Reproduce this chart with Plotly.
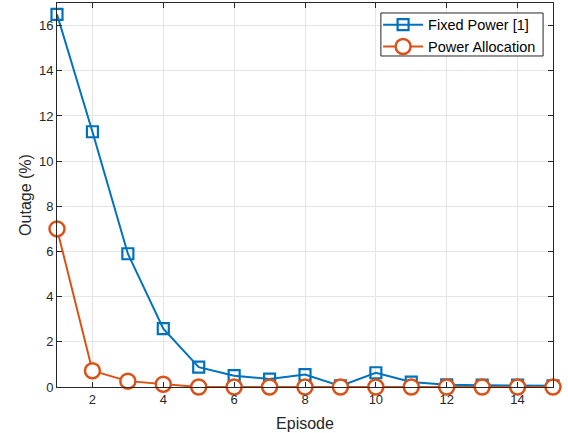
import plotly.graph_objects as go

episodes = list(range(1, 16))
fixed_power = [16.5, 11.3, 5.9, 2.58, 0.88, 0.5, 0.35, 0.55, 0.05, 0.63, 0.22, 0.1, 0.08, 0.08, 0.05]
power_alloc = [7.0, 0.72, 0.26, 0.12, 0.0, 0.0, 0.0, 0.0, 0.0, 0.0, 0.0, 0.0, 0.0, 0.0, 0.0]

blue = "#0072BD"
orange = "#D95319"
axcol = "#262626"

fig = go.Figure()
fig.add_trace(go.Scatter(
    x=episodes, y=fixed_power, mode="lines+markers", name="Fixed Power [1]",
    line=dict(color=blue, width=2),
    marker=dict(symbol="square-open", size=11, color=blue, line=dict(width=2.2, color=blue)),
    cliponaxis=False,
))
fig.add_trace(go.Scatter(
    x=episodes, y=power_alloc, mode="lines+markers", name="Power Allocation",
    line=dict(color=orange, width=2),
    marker=dict(symbol="circle", size=15, color="white", line=dict(width=2.5, color=orange)),
    cliponaxis=False,
))

# legend frame (white box with dark border)
fig.add_shape(
    type="rect", xref="paper", yref="paper",
    x0=0.653, x1=0.980, y0=0.862, y1=0.974,
    fillcolor="white", line=dict(color="#262626", width=1), layer="above",
)

fig.update_layout(
    width=568, height=433,
    margin=dict(l=57, r=15, t=3, b=46, autoexpand=False),
    paper_bgcolor="white", plot_bgcolor="white",
    font=dict(family="Liberation Sans, Arial, sans-serif", color=axcol, size=13),
    showlegend=True,
    legend=dict(
        x=0.976, y=0.985, xanchor="right", yanchor="top",
        bgcolor="rgba(0,0,0,0)", borderwidth=0,
        font=dict(size=14.5, color="#000000"),
        tracegroupgap=0, itemwidth=40,
    ),
)
fig.update_xaxes(
    range=[1, 15], tickvals=[2, 4, 6, 8, 10, 12, 14],
    showline=True, mirror="ticks", linecolor=axcol, linewidth=1,
    ticks="inside", ticklen=5, tickcolor=axcol,
    showgrid=True, gridcolor="#e5e5e5", gridwidth=1, zeroline=False,
    title=dict(text="Episode", font=dict(size=16), standoff=12),
    tickfont=dict(size=13),
)
fig.update_yaxes(
    range=[0, 17], tickvals=[0, 2, 4, 6, 8, 10, 12, 14, 16],
    showline=True, mirror="ticks", linecolor=axcol, linewidth=1,
    ticks="inside", ticklen=5, tickcolor=axcol,
    showgrid=True, gridcolor="#e5e5e5", gridwidth=1, zeroline=False,
    title=dict(text="Outage (%)", font=dict(size=16), standoff=3),
    tickfont=dict(size=13),
)

fig.write_html("out.html", config={"displayModeBar": False},
               post_script="document.body.style.margin='0';")
